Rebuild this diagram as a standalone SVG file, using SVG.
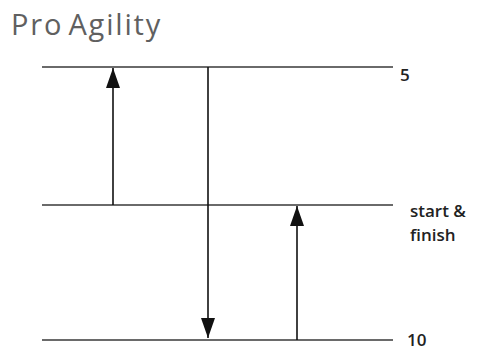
<svg xmlns="http://www.w3.org/2000/svg" width="479" height="350" viewBox="0 0 479 350">
  <style>
    .title { font-family: "Open Sans", "Noto Sans", sans-serif; font-size: 29px; letter-spacing: 1.8px; word-spacing: -4px; fill: #606060; }
    .lbl { font-family: "Open Sans", "Noto Sans", sans-serif; font-size: 17px; font-weight: 600; fill: #222; }
    .mark { stroke: #6a6a6a; stroke-width: 2.2; fill: none; }
    .run { stroke: #111; stroke-width: 1.6; fill: none; }
  </style>
  <defs>
    <marker id="head" viewBox="0 0 20 14" refX="20" refY="7" markerWidth="20" markerHeight="14" markerUnits="userSpaceOnUse" orient="auto">
      <path d="M0,0 L20,7 L0,14 Z" fill="#111"/>
    </marker>
  </defs>
  <rect width="479" height="350" fill="#fff"/>
  <text class="title" x="11" y="35">Pro Agility</text>

  <g id="line-5">
    <line class="mark" x1="42" y1="67" x2="393" y2="67"/>
    <text class="lbl" x="400" y="81">5</text>
  </g>
  <g id="line-start">
    <line class="mark" x1="42" y1="205" x2="393" y2="205"/>
    <text class="lbl" x="410" y="217">start &amp;</text>
    <text class="lbl" x="410" y="241">finish</text>
  </g>
  <g id="line-10">
    <line class="mark" x1="42" y1="340" x2="393" y2="340"/>
    <text class="lbl" x="407" y="346">10</text>
  </g>

  <g id="connectors">
    <line class="run" x1="113" y1="205" x2="113" y2="68" marker-end="url(#head)"/>
    <line class="run" x1="208" y1="67" x2="208" y2="338" marker-end="url(#head)"/>
    <line class="run" x1="297" y1="340" x2="297" y2="206" marker-end="url(#head)"/>
  </g>
</svg>
